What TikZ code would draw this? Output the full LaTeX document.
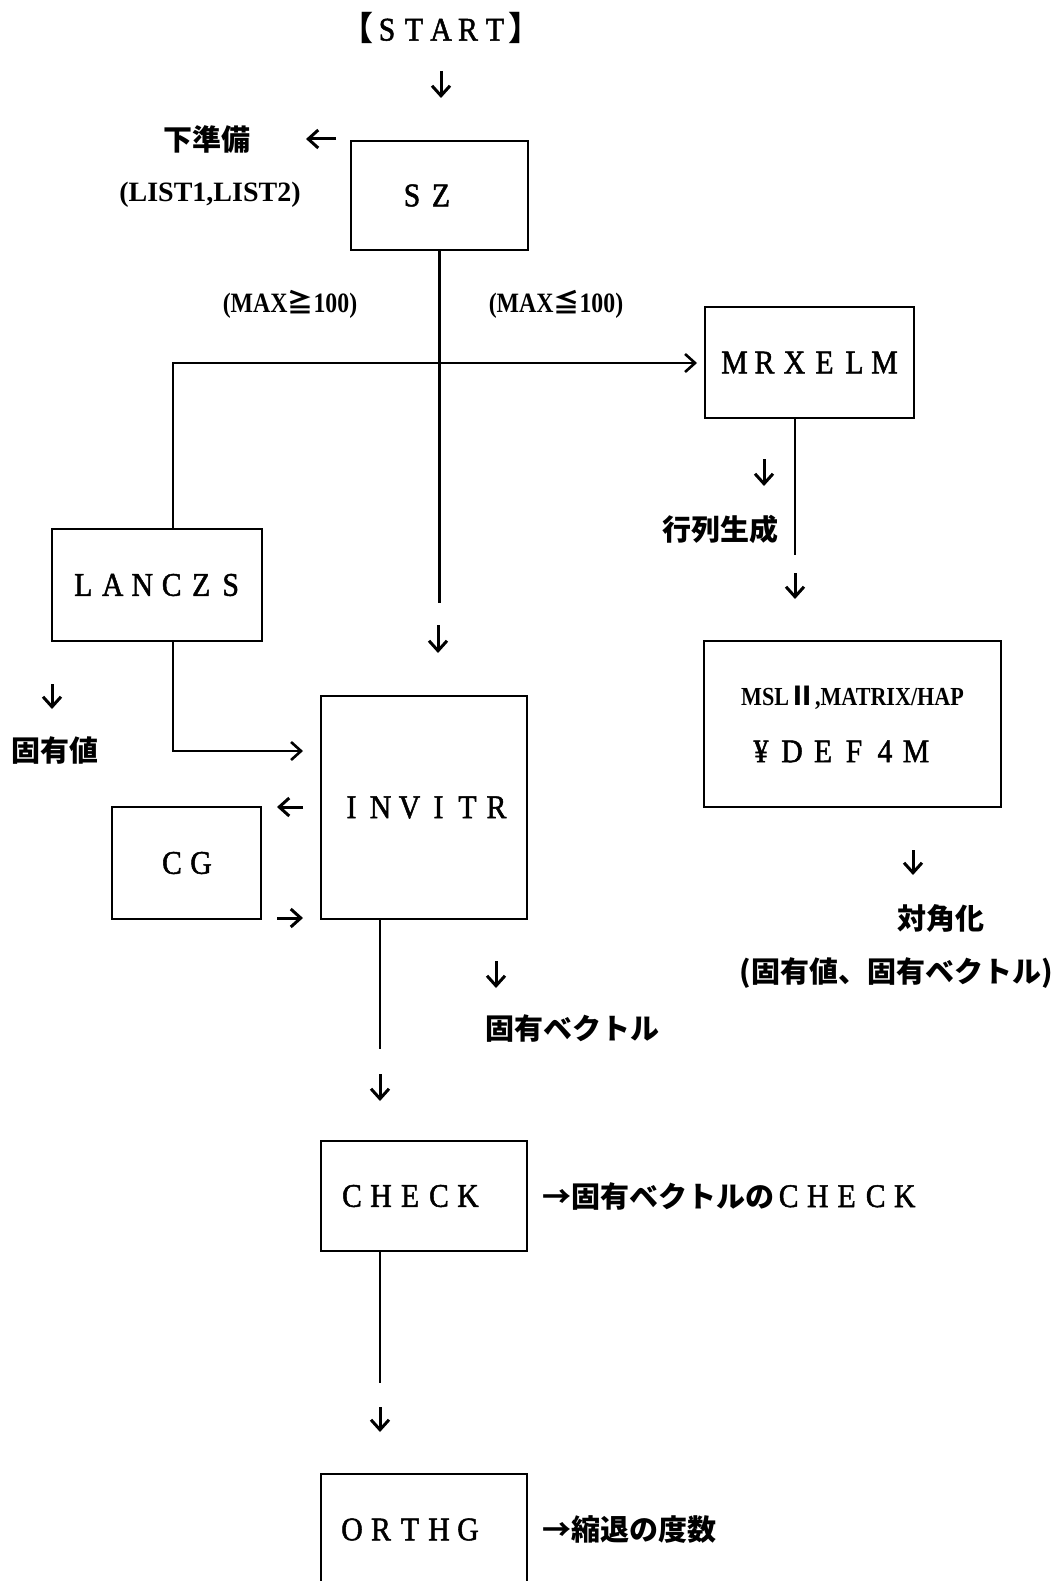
\documentclass[tikz,border=0pt]{standalone}
\usepackage{fontspec}
\setmainfont{Liberation Serif}
\newfontfamily\jp{Noto Sans CJK JP}
\newfontfamily\wfam[FakeStretch=0.9,FakeBold=1.5]{Liberation Serif}
\newfontfamily\cfam[FakeStretch=0.85]{Liberation Serif}
\usetikzlibrary{arrows.meta}
\newlength\fwpitch
\def\fwloop#1{\ifx#1\relax\else\makebox[\fwpitch]{#1}\expandafter\fwloop\fi}
\newcommand\fw[2][29pt]{\setlength\fwpitch{#1}\fwloop#2\relax}
\newcommand\wf{\fontsize{33pt}{38pt}\wfam\mdseries}
\newcommand\lf{\fontsize{28pt}{32pt}\rmfamily\bfseries}
\newcommand\cf{\fontsize{28pt}{32pt}\cfam\bfseries}
\newcommand\jf{\fontsize{29pt}{34pt}\jp\bfseries}
\begin{document}
\begin{tikzpicture}[x=1pt,y=-1pt,
  conn/.style={line width=2.6pt},
  tip/.style={-{Straight Barb[length=10pt,width=18pt]}},
  garr/.style={line width=3pt,-{Straight Barb[length=10pt,width=18pt]}},
  box/.style={draw,line width=2pt,inner sep=0pt,font=\wf},
  jl/.style={font=\jf,inner sep=0pt},
  ll/.style={font=\lf,inner sep=0pt},
  cl/.style={font=\cf,inner sep=0pt}]
\fill[white] (0,0) rectangle (1062,1581);
\useasboundingbox (0,0) rectangle (1062,1581);

% boxes
\node[box,minimum width=177,minimum height=109] (sz) at (439.5,195.5) {\hspace*{-26pt}\fw{SZ}};
\node[box,minimum width=209,minimum height=111] (mrxelm) at (809.5,362.5) {\fw[30pt]{MRXELM}};
\node[box,minimum width=297,minimum height=166,align=center,font=\fontsize{26pt}{57pt}\selectfont] (msl) at (852.5,724)
  {{\fontsize{26pt}{30pt}\cfam\bfseries MSL{\jp\bfseries Ⅱ},MATRIX/HAP}\\\hspace*{-28pt}{\wf\fw[31pt]{¥DEF4M}}};
\node[box,minimum width=210,minimum height=112] (lanczs) at (157,585) {\fw[29.5pt]{LANCZS}};
\node[box,minimum width=206,minimum height=223] (invitr) at (424,807.5) {\fw{INVITR}};
\node[box,minimum width=149,minimum height=112] (cg) at (186.5,863) {\fw{CG}};
\node[box,minimum width=206,minimum height=110] (check) at (424,1196) {\hspace*{-28pt}\fw{CHECK}};
\node[box,minimum width=206,minimum height=111] (orthg) at (424,1529.5) {\hspace*{-28pt}\fw{ORTHG}};

% texts
\node[font=\wf,inner sep=0pt] (start) at (441,28) {{\jp\bfseries\makebox[16pt][r]{【}}\fw[27pt]{START}{\jp\bfseries\makebox[16pt][l]{】}}};
\node[jl] (prep) at (207,139) {下準備};
\node[ll] (list) at (210,195) {(LIST1,LIST2)};
\node[cl] (max1) at (290,304) {(MAX{\jp\fontsize{26pt}{30pt}\selectfont ≧}100)};
\node[cl] (max2) at (556,304) {(MAX{\jp\fontsize{26pt}{30pt}\selectfont ≦}100)};
\node[jl] (gen) at (720,529) {行列生成};
\node[jl] (diag) at (941,918) {対角化};
\node[jl] (evv) at (896,973) {(固有値、固有ベクトル)};
\node[jl] (eval) at (55,751) {固有値};
\node[jl] (evec) at (572,1028) {固有ベクトル};
\node[jl,anchor=west] (chk) at (542,1196) {→固有ベクトルの{\wf\fw{CHECK}}};
\node[jl,anchor=west] (deg) at (542,1529) {→縮退の度数};

% connectors
\coordinate (szend) at (439.5,603);
\draw[conn] (sz.south) -- (szend);
\coordinate (lzx) at (173,363);
\coordinate (mrxin) at (697,363);
\draw[conn,tip] (lanczs.north -| lzx) |- (mrxin);
\coordinate (mrxend) at (795,555);
\draw[conn] (mrxelm.south -| mrxend) -- (mrxend);
\coordinate (invin) at (303,751);
\draw[conn,tip] (lanczs.south -| lzx) |- (invin);
\coordinate (invend) at (380,1049);
\draw[conn] (invitr.south -| invend) -- (invend);
\coordinate (chkend) at (380,1383);
\draw[conn] (check.south -| chkend) -- (chkend);

% glyph arrows
\coordinate (a1s) at (441,71);  \coordinate (a1e) at (441,98);
\draw[garr] (a1s) -- (a1e);
\coordinate (a2s) at (336,139); \coordinate (a2e) at (306,139);
\draw[garr] (a2s) -- (a2e);
\coordinate (a3s) at (438,625); \coordinate (a3e) at (438,653);
\draw[garr] (a3s) -- (a3e);
\coordinate (a4s) at (764,459); \coordinate (a4e) at (764,486);
\draw[garr] (a4s) -- (a4e);
\coordinate (a5s) at (795,573); \coordinate (a5e) at (795,599);
\draw[garr] (a5s) -- (a5e);
\coordinate (a6s) at (52,684);  \coordinate (a6e) at (52,709);
\draw[garr] (a6s) -- (a6e);
\coordinate (a7s) at (303,807); \coordinate (a7e) at (277,807);
\draw[garr] (a7s) -- (a7e);
\coordinate (a8s) at (277,918); \coordinate (a8e) at (303,918);
\draw[garr] (a8s) -- (a8e);
\coordinate (a9s) at (913,850); \coordinate (a9e) at (913,875);
\draw[garr] (a9s) -- (a9e);
\coordinate (a10s) at (496,961); \coordinate (a10e) at (496,988);
\draw[garr] (a10s) -- (a10e);
\coordinate (a11s) at (380,1074); \coordinate (a11e) at (380,1101);
\draw[garr] (a11s) -- (a11e);
\coordinate (a12s) at (380,1407); \coordinate (a12e) at (380,1432);
\draw[garr] (a12s) -- (a12e);
\end{tikzpicture}
\end{document}
